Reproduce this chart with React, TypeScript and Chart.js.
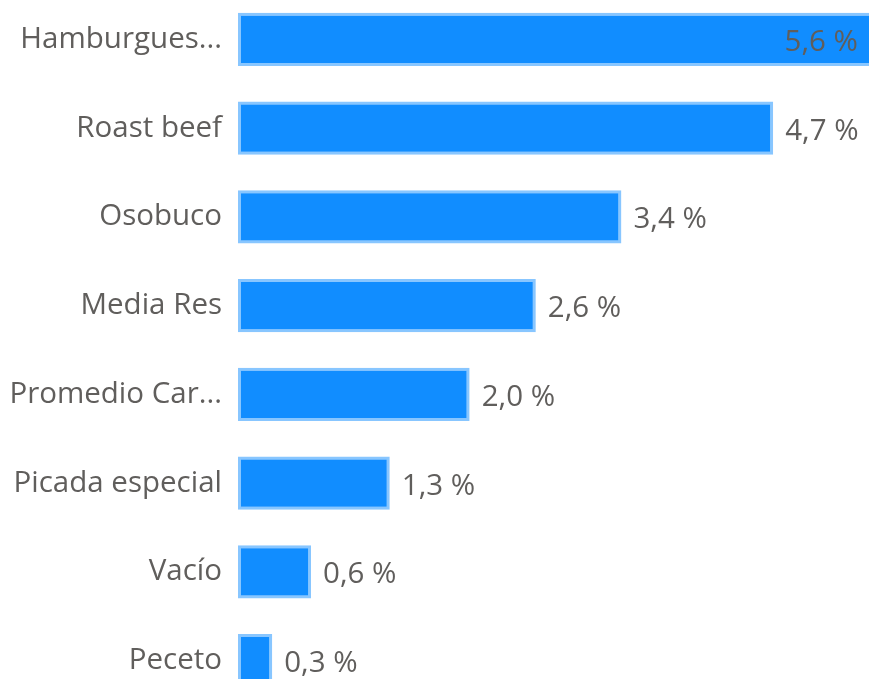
import React, { useEffect, useRef } from "react";
import { Chart, registerables } from "chart.js";

Chart.register(...registerables);

const categories = [
  "Hamburgues...",
  "Roast beef",
  "Osobuco",
  "Media Res",
  "Promedio Car...",
  "Picada especial",
  "Vacío",
  "Peceto",
];
const shareValues = [5.62, 4.69, 3.36, 2.61, 2.03, 1.33, 0.64, 0.3];

const FONT = "'Open Sans', 'Noto Sans', sans-serif";
const TEXT_COLOR = "#605E5C";
const FONT_SIZE = 29.5;

const labelPlugin = {
  id: "barValueLabels",
  afterDatasetsDraw(chart: any) {
    const { ctx, chartArea } = chart;
    const meta = chart.getDatasetMeta(0);
    ctx.save();
    ctx.font = `${FONT_SIZE}px ${FONT}`;
    ctx.fillStyle = TEXT_COLOR;
    ctx.textBaseline = "middle";
    meta.data.forEach((bar: any, i: number) => {
      const v = shareValues[i];
      const text = v.toFixed(1).replace(".", ",") + " %";
      const w = ctx.measureText(text).width;
      const x = bar.x + 12;
      if (x + w > chartArea.right) {
        ctx.textAlign = "right";
        ctx.fillText(text, chartArea.right - 11, bar.y + 3);
      } else {
        ctx.textAlign = "left";
        ctx.fillText(text, x, bar.y + 3);
      }
    });
    ctx.restore();
  },
};

export default function App() {
  const canvasRef = useRef<HTMLCanvasElement | null>(null);

  useEffect(() => {
    if (!canvasRef.current) return;
    const chart = new Chart(canvasRef.current, {
      type: "bar",
      data: {
        labels: categories,
        datasets: [
          {
            data: shareValues,
            backgroundColor: "#118DFF",
            borderColor: "rgba(17,141,255,0.5)",
            borderWidth: 3,
            borderSkipped: false,
            categoryPercentage: 1,
            barPercentage: 0.6,
          },
        ],
      },
      options: {
        indexAxis: "y",
        animation: false,
        responsive: false,
        maintainAspectRatio: false,
        layout: { padding: 0 },
        plugins: {
          legend: { display: false },
          tooltip: { enabled: false },
        },
        scales: {
          x: {
            display: false,
            min: 0,
            max: 5.53,
          },
          y: {
            grid: { display: false },
            border: { display: false },
            ticks: {
              color: TEXT_COLOR,
              font: { family: FONT, size: FONT_SIZE },
              padding: 8,
            },
            afterFit(scale: any) {
              scale.width = 238;
              scale.paddingTop = 0;
              scale.paddingBottom = 0;
            },
          },
        },
      },
      plugins: [labelPlugin],
    });
    return () => chart.destroy();
  }, []);

  return (
    <div
      style={{
        position: "fixed",
        left: 0,
        top: 0,
        width: 869,
        height: 679,
        overflow: "hidden",
        background: "#fff",
      }}
    >
      <canvas
        ref={canvasRef}
        width={869}
        height={710}
        style={{ position: "absolute", left: 0, top: -5, width: 869, height: 710 }}
      />
    </div>
  );
}
